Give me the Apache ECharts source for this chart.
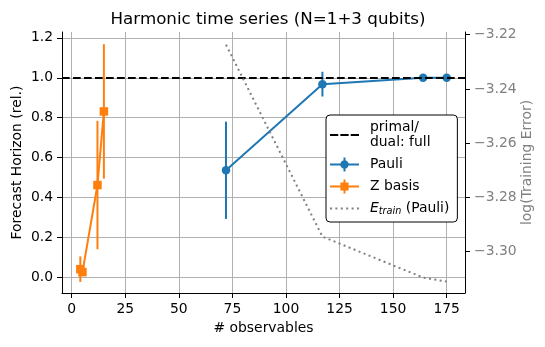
<!DOCTYPE html>
<html>
<head>
<meta charset="utf-8">
<script src="https://cdn.jsdelivr.net/npm/echarts@6/dist/echarts.min.js"></script>
<style>
html, body { margin: 0; padding: 0; background: #fff; }
#chart { width: 545px; height: 347px; }
</style>
</head>
<body>
<div id="chart"></div>
<script>
// Pauli observables
const pauliX = [72, 117, 164, 175]
const pauliY = [0.536, 0.968, 1.0, 1.0]
const pauliErr = [0.244, 0.062, 0, 0]
// Z basis observables
const zX = [4, 5, 12, 15]
const zY = [0.04, 0.025, 0.462, 0.831]
const zErr = [0.064, 0.015, 0.322, 0.337]
// training error (log) on the twin axis
const trainX = [72, 117, 164, 175]
const trainLog = [-3.2237, -3.2945, -3.3096, -3.3111]
// primal / dual with full observables
const fullLevel = 1.0

const xTicks = [0, 25, 50, 75, 100, 125, 150, 175]
const yTicks = [0, 0.2, 0.4, 0.6, 0.8, 1.0, 1.2]
const y2Ticks = [-3.30, -3.28, -3.26, -3.24, -3.22]

const font = 'DejaVu Sans'
const blue = '#1f77b4'
const orange = '#ff7f0e'

// legend handles drawn like matplotlib ones (line + marker + error bar), 29x14 box
const iconDashed = 'path://M0,6 L8.3,6 L8.3,8 L0,8 Z M10.35,6 L18.65,6 L18.65,8 L10.35,8 Z M20.7,6 L29,6 L29,8 L20.7,8 Z'
const iconCircleBar = 'path://M0,6 L29,6 L29,8 L0,8 Z M13.5,0 L15.5,0 L15.5,14 L13.5,14 Z M10.3,7 A4.2,4.2 0 1,1 18.7,7 A4.2,4.2 0 1,1 10.3,7 Z'
const iconRectBar = 'path://M0,6 L29,6 L29,8 L0,8 Z M13.5,0 L15.5,0 L15.5,14 L13.5,14 Z M10.4,2.9 L18.6,2.9 L18.6,11.1 L10.4,11.1 Z'
const iconDotted = 'path://M0,6 L2,6 L2,8 L0,8 Z M5.4,6 L7.4,6 L7.4,8 L5.4,8 Z M10.8,6 L12.8,6 L12.8,8 L10.8,8 Z M16.2,6 L18.2,6 L18.2,8 L16.2,8 Z M21.6,6 L23.6,6 L23.6,8 L21.6,8 Z M27,6 L29,6 L29,8 L27,8 Z'

function minus(s) {
  return String(s).replace('-', '\u2212')
}

function errorBars(name, xs, ys, es, color) {
  return {
    name: name,
    type: 'custom',
    data: xs.map((x, i) => [x, ys[i] - es[i], ys[i] + es[i]]),
    encode: { x: 0, y: [1, 2] },
    renderItem: function (params, api) {
      const lo = api.coord([api.value(0), api.value(1)])
      const hi = api.coord([api.value(0), api.value(2)])
      return {
        type: 'line',
        shape: { x1: lo[0], y1: lo[1], x2: hi[0], y2: hi[1] },
        style: { stroke: color, lineWidth: 2 }
      }
    },
    silent: true,
    z: 3
  }
}

const axisCommon = {
  axisLine: { show: true, onZero: false, lineStyle: { color: '#000', width: 1 } },
  axisTick: { show: true, inside: false, length: 5, lineStyle: { color: '#000', width: 1 } },
  nameMoveOverlap: false,
  nameTextStyle: { fontFamily: font, fontSize: 13.9, color: '#000' }
}

var myChart = echarts.init(document.getElementById('chart'))
myChart.setOption({
  animation: false,
  backgroundColor: '#fff',
  title: {
    text: 'Harmonic time series (N=1+3 qubits)',
    left: 263,
    textAlign: 'center',
    top: 6,
    textStyle: { fontFamily: font, fontSize: 16.7, fontWeight: 'normal', color: '#000' }
  },
  grid: { left: 62, right: 80, top: 32, bottom: 54, outerBoundsMode: 'none', containLabel: false },
  legend: {
    orient: 'vertical',
    left: 326,
    top: 115,
    padding: [5, 8, 6, 4],
    itemGap: 7,
    itemWidth: 29,
    itemHeight: 14,
    backgroundColor: '#fff',
    borderColor: '#000',
    borderWidth: 1,
    borderRadius: 4,
    itemStyle: { borderWidth: 0 },
    data: [
      { name: 'primal/\ndual: full', icon: iconDashed },
      { name: 'Pauli', icon: iconCircleBar },
      { name: 'Z basis', icon: iconRectBar },
      { name: 'E_train', icon: iconDotted }
    ],
    formatter: function (name) {
      return name === 'E_train' ? '{e|E}{s|train} (Pauli)' : name
    },
    textStyle: {
      fontFamily: font,
      fontSize: 13.9,
      color: '#000',
      lineHeight: 15,
      padding: [0, 0, 0, 6],
      rich: {
        e: { fontFamily: font, fontSize: 13.9, fontStyle: 'italic', color: '#000' },
        s: { fontFamily: font, fontSize: 9.7, fontStyle: 'italic', color: '#000', verticalAlign: 'bottom', padding: [6, 0, 0, 0] }
      }
    }
  },
  xAxis: Object.assign({}, axisCommon, {
    type: 'value',
    min: -4.55,
    max: 183.55,
    name: '# observables',
    nameLocation: 'middle',
    nameGap: 28,
    axisTick: Object.assign({}, axisCommon.axisTick, { customValues: xTicks }),
    axisLabel: { customValues: xTicks, margin: 9, fontFamily: font, fontSize: 13.9, color: '#000' },
    splitLine: { show: true, lineStyle: { color: '#b0b0b0', width: 1 } }
  }),
  yAxis: [
    Object.assign({}, axisCommon, {
      type: 'value',
      min: -0.0795,
      max: 1.2295,
      name: 'Forecast Horizon (rel.)',
      nameLocation: 'middle',
      nameRotate: 90,
      nameGap: 38,
      axisTick: Object.assign({}, axisCommon.axisTick, { customValues: yTicks }),
      axisLabel: { customValues: yTicks, margin: 9, fontFamily: font, fontSize: 13.9, color: '#000',
        formatter: v => v.toFixed(1) },
      splitLine: { show: true, lineStyle: { color: '#b0b0b0', width: 1 } }
    }),
    Object.assign({}, axisCommon, {
      type: 'value',
      position: 'right',
      min: -3.3153,
      max: -3.2190,
      name: 'log(Training Error)',
      nameLocation: 'middle',
      nameRotate: 90,
      nameGap: 55,
      nameTextStyle: { fontFamily: font, fontSize: 13.9, color: '#808080' },
      axisTick: Object.assign({}, axisCommon.axisTick, { customValues: y2Ticks }),
      axisLabel: { customValues: y2Ticks, margin: 9, fontFamily: font, fontSize: 13.9, color: '#808080',
        formatter: v => minus(v.toFixed(2)) },
      splitLine: { show: false }
    })
  ],
  series: [
    {
      name: 'primal/\ndual: full',
      type: 'line',
      data: [],
      symbol: 'none',
      itemStyle: { color: '#000' },
      lineStyle: { color: '#000', width: 2, type: [7.7, 3.3] },
      markLine: {
        silent: true,
        symbol: 'none',
        label: { show: false },
        lineStyle: { color: '#000', width: 2, type: [7.7, 3.3] },
        data: [{ yAxis: fullLevel }]
      },
      z: 2
    },
    errorBars('Pauli err', pauliX, pauliY, pauliErr, blue),
    {
      name: 'Pauli',
      type: 'line',
      data: pauliX.map((x, i) => [x, pauliY[i]]),
      symbol: 'circle',
      symbolSize: 8.5,
      itemStyle: { color: blue },
      lineStyle: { color: blue, width: 2 },
      z: 4
    },
    errorBars('Z err', zX, zY, zErr, orange),
    {
      name: 'Z basis',
      type: 'line',
      data: zX.map((x, i) => [x, zY[i]]),
      symbol: 'rect',
      symbolSize: 8.5,
      itemStyle: { color: orange },
      lineStyle: { color: orange, width: 2 },
      z: 4
    },
    {
      name: 'E_train',
      type: 'line',
      yAxisIndex: 1,
      data: trainX.map((x, i) => [x, trainLog[i]]),
      symbol: 'none',
      itemStyle: { color: '#808080' },
      lineStyle: { color: '#808080', width: 2, type: [2, 3.4] },
      z: 5
    }
  ]
})
</script>
</body>
</html>
